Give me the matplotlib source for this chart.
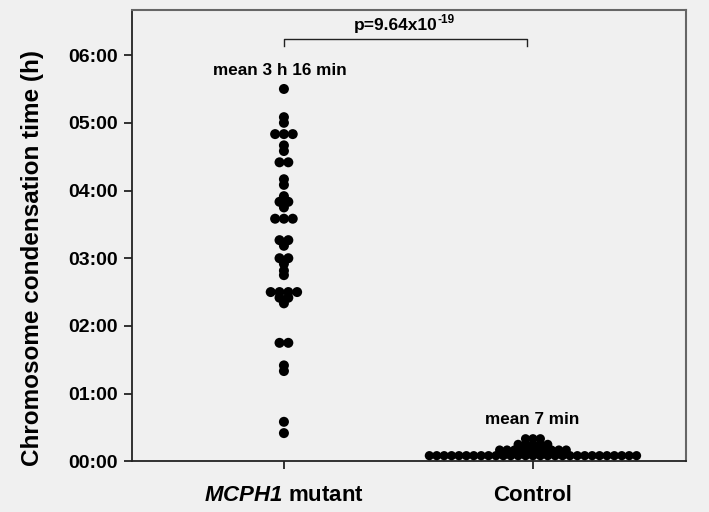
"""
Chromosome condensation time: MCPH1 mutant vs control (scatter with mean labels).
"""

import numpy as np
import matplotlib.pyplot as plt

plt.rcParams["font.family"] = ["Liberation Sans", "DejaVu Sans"]
plt.rcParams["font.weight"] = "bold"
plt.rcParams["mathtext.fontset"] = "custom"
plt.rcParams["mathtext.rm"] = "Liberation Sans:bold"
plt.rcParams["mathtext.bf"] = "Liberation Sans:bold"
plt.rcParams["mathtext.it"] = "Liberation Sans:italic:bold"
plt.rcParams["mathtext.sf"] = "Liberation Sans:italic:bold"

# ---- data (minutes) --------------------------------------------------------
groups = [r"$\mathsf{MCPH1}$ mutant", "Control"]

mutant_values = [330, 305, 300, 290, 280, 275, 265, 250, 245, 235, 230, 225,
                 215, 196, 191, 180, 175, 169, 165, 150, 145, 140, 105, 85, 80,
                 35, 25]
mutant_counts = [1, 1, 1, 3, 1, 1, 2, 1, 1, 1, 2, 1,
                 3, 2, 1, 2, 1, 1, 1, 4, 2, 1, 2, 1, 1,
                 1, 1]

control_values = [5, 10, 15, 20]
control_counts = [29, 10, 5, 3]

mean_labels = ["mean 3 h 16 min", "mean 7 min"]
p_main, p_exp = "p=9.64x10", "-19"

yticks_min = [0, 60, 120, 180, 240, 300, 360]

BG = "#f0f0f0"

fig = plt.figure(figsize=(7.09, 5.12), dpi=100, facecolor=BG)
ax = fig.add_axes([0.1855, 0.099, 0.7815, 0.8815], facecolor=BG)

xmin, xmax = 0.388, 2.613
ax.set_xlim(xmin, xmax)
ax.set_ylim(0, 400)

px_per_unit = 0.7815 * 709 / (xmax - xmin)


def row_points(center, values, counts, spacing_px):
    """Spread identical values side by side, centred on the group position."""
    xs, ys = [], []
    dx = spacing_px / px_per_unit
    for v, n in zip(values, counts):
        offs = (np.arange(n) - (n - 1) / 2) * dx
        xs.extend(center + offs)
        ys.extend([v] * n)
    return np.array(xs), np.array(ys)


mx, my = row_points(1.0, mutant_values, mutant_counts, 8.8)
cx, cy = row_points(2.0, control_values, control_counts, 7.4)

ax.scatter(mx, my, s=52, color="black", edgecolor="none", zorder=3, clip_on=False)
ax.scatter(cx, cy, s=44, color="black", edgecolor="none", zorder=3, clip_on=False)

# mean labels
ax.text(0.985, 346, mean_labels[0], ha="center", va="center", fontsize=12.3)
ax.text(1.995, 37, mean_labels[1], ha="center", va="center", fontsize=12.3)

# significance bracket
ax.plot([1.0, 1.0, 1.976, 1.976], [368, 374.5, 374.5, 368], color="#222222", lw=1.0)
ax.text(1.615, 386, p_main, ha="right", va="center", fontsize=12.5)
ax.text(1.617, 391, p_exp, ha="left", va="center", fontsize=8.5)

# axes styling
ax.set_yticks(yticks_min)
ax.set_yticklabels([f"{m // 60:02d}:{m % 60:02d}" for m in yticks_min])
ax.set_xticks([1, 2])
ax.set_xticklabels(groups)
ax.tick_params(axis="y", length=6, width=1.3, pad=4, labelsize=14, color="#222222")
ax.tick_params(axis="x", length=6, width=1.3, pad=11, labelsize=16, color="#222222")

ax.set_ylabel("Chromosome condensation time (h)", fontsize=17.5, fontweight="bold")
ax.yaxis.set_label_coords(-0.158, 0.45)

for side in ["left", "bottom"]:
    ax.spines[side].set_color("#222222")
    ax.spines[side].set_linewidth(1.3)
for side in ["top", "right"]:
    ax.spines[side].set_color("#666666")
    ax.spines[side].set_linewidth(1.5)

fig.savefig("out.png", dpi=100, facecolor=BG)
